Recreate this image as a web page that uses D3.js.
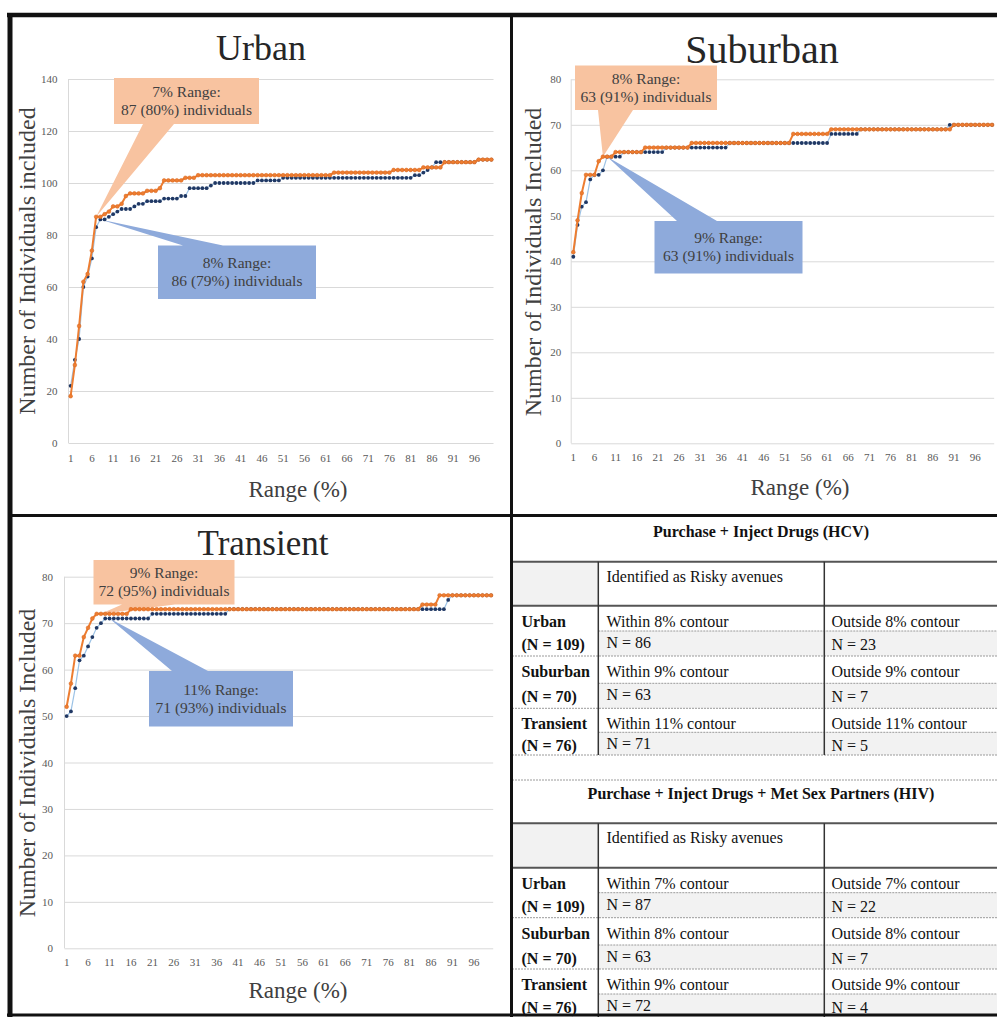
<!DOCTYPE html>
<html>
<head>
<meta charset="utf-8">
<script src="https://cdn.jsdelivr.net/npm/d3@7"></script>
<style>
  body { margin: 0; background: #fff; }
  svg { display: block; font-family: "Liberation Serif", "DejaVu Serif", serif; }
</style>
</head>
<body>
<svg id="fig" width="997" height="1017"></svg>
<script>
// x categories: range (%) 1..100
const categories = d3.range(1, 101);
const xTickLabels = ["1", "6", "11", "16", "21", "26", "31", "36", "41", "46", "51", "56", "61", "66", "71", "76", "81", "86", "91", "96"];

// orange = HIV (purchase + inject + met sex partners), navy = HCV (purchase + inject)
const urbanHiv = [
  18, 30, 45, 62, 65, 74, 87, 87, 88, 89,
  91, 91, 92, 95, 96, 96, 96, 96, 97, 97,
  97, 98, 101, 101, 101, 101, 101, 102, 102, 102,
  103, 103, 103, 103, 103, 103, 103, 103, 103, 103,
  103, 103, 103, 103, 103, 103, 103, 103, 103, 103,
  103, 103, 103, 103, 103, 103, 103, 103, 103, 103,
  103, 103, 104, 104, 104, 104, 104, 104, 104, 104,
  104, 104, 104, 104, 104, 104, 105, 105, 105, 105,
  105, 105, 105, 106, 106, 106, 106, 106, 108, 108,
  108, 108, 108, 108, 108, 108, 109, 109, 109, 109
];
const urbanHcv = [
  22, 32, 40, 60, 64, 71, 83, 86, 86, 87,
  88, 89, 90, 90, 90, 91, 92, 92, 93, 93,
  93, 93, 94, 94, 94, 94, 95, 95, 98, 98,
  98, 98, 98, 99, 100, 100, 100, 100, 100, 100,
  100, 100, 100, 100, 101, 101, 101, 101, 101, 101,
  102, 102, 102, 102, 102, 102, 102, 102, 102, 102,
  102, 102, 102, 102, 102, 102, 102, 102, 102, 102,
  102, 102, 102, 102, 102, 102, 102, 102, 102, 102,
  102, 103, 103, 104, 105, 106, 108, 108, 108, 108,
  108, 108, 108, 108, 108, 108, 109, 109, 109, 109
];
const suburbanHiv = [
  42, 49, 55, 59, 59, 59, 62, 63, 63, 63,
  64, 64, 64, 64, 64, 64, 64, 65, 65, 65,
  65, 65, 65, 65, 65, 65, 65, 65, 66, 66,
  66, 66, 66, 66, 66, 66, 66, 66, 66, 66,
  66, 66, 66, 66, 66, 66, 66, 66, 66, 66,
  66, 66, 68, 68, 68, 68, 68, 68, 68, 68,
  68, 69, 69, 69, 69, 69, 69, 69, 69, 69,
  69, 69, 69, 69, 69, 69, 69, 69, 69, 69,
  69, 69, 69, 69, 69, 69, 69, 69, 69, 69,
  70, 70, 70, 70, 70, 70, 70, 70, 70, 70
];
const suburbanHcv = [
  41, 48, 52, 53, 58, 59, 59, 60, 63, 63,
  63, 63, 64, 64, 64, 64, 64, 64, 64, 64,
  64, 64, 65, 65, 65, 65, 65, 65, 65, 65,
  65, 65, 65, 65, 65, 65, 65, 66, 66, 66,
  66, 66, 66, 66, 66, 66, 66, 66, 66, 66,
  66, 66, 66, 66, 66, 66, 66, 66, 66, 66,
  66, 68, 68, 68, 68, 68, 68, 68, 69, 69,
  69, 69, 69, 69, 69, 69, 69, 69, 69, 69,
  69, 69, 69, 69, 69, 69, 69, 69, 69, 70,
  70, 70, 70, 70, 70, 70, 70, 70, 70, 70
];
const transientHiv = [
  52, 57, 63, 63, 67, 69, 71, 72, 72, 72,
  72, 72, 72, 72, 72, 73, 73, 73, 73, 73,
  73, 73, 73, 73, 73, 73, 73, 73, 73, 73,
  73, 73, 73, 73, 73, 73, 73, 73, 73, 73,
  73, 73, 73, 73, 73, 73, 73, 73, 73, 73,
  73, 73, 73, 73, 73, 73, 73, 73, 73, 73,
  73, 73, 73, 73, 73, 73, 73, 73, 73, 73,
  73, 73, 73, 73, 73, 73, 73, 73, 73, 73,
  73, 73, 73, 74, 74, 74, 74, 76, 76, 76,
  76, 76, 76, 76, 76, 76, 76, 76, 76, 76
];
const transientHcv = [
  50, 51, 56, 62, 63, 65, 67, 69, 70, 71,
  71, 71, 71, 71, 71, 71, 71, 71, 71, 71,
  72, 72, 72, 72, 72, 72, 72, 72, 72, 72,
  72, 72, 72, 72, 72, 72, 72, 72, 73, 73,
  73, 73, 73, 73, 73, 73, 73, 73, 73, 73,
  73, 73, 73, 73, 73, 73, 73, 73, 73, 73,
  73, 73, 73, 73, 73, 73, 73, 73, 73, 73,
  73, 73, 73, 73, 73, 73, 73, 73, 73, 73,
  73, 73, 73, 73, 73, 73, 73, 73, 73, 75,
  76, 76, 76, 76, 76, 76, 76, 76, 76, 76
];

// callouts: [range %, individuals, share %]
const urbanCallouts = [[7, 87, 80], [8, 86, 79]];
const suburbanCallouts = [[8, 63, 91], [9, 63, 91]];
const transientCallouts = [[9, 72, 95], [11, 71, 93]];

// table values
const tableTitles = ["Purchase + Inject Drugs (HCV)", "Purchase + Inject Drugs + Met Sex Partners (HIV)"];
const groupNames = ["Urban", "Suburban", "Transient"];
const groupN = [109, 70, 76];
const hcvContour = [8, 9, 11];
const hcvWithin = [86, 63, 71];
const hcvOutside = [23, 7, 5];
const hivContour = [7, 8, 9];
const hivWithin = [87, 63, 72];
const hivOutside = [22, 7, 4];

const orange = "#ed7d31";
const navy = "#203864";
const peach = "#f8c3a0";
const blue = "#8eaadb";

const svg = d3.select("#fig");

const panels = [
  {
    title: "Urban", titleX: 261, titleY: 60, titleSize: 36,
    yLabel: "Number of Individuals included", yLabelX: 35, yLabelY: 261,
    xLabelX: 298, xLabelY: 497,
    box: { l: 68.5, r: 493.5, t: 79, b: 443 }, yMax: 140, yStep: 20, yPad: 11, xPad: 11,
    hiv: urbanHiv, hcv: urbanHcv, callouts: urbanCallouts,
    hivBox: { x: 114, y: 78, w: 145, h: 46, side: "bottom", b1: 143, b2: 174 },
    hcvBox: { x: 158, y: 245.5, w: 158, h: 53.5, side: "top", b1: 183, b2: 223 }
  },
  {
    title: "Suburban", titleX: 762, titleY: 63, titleSize: 40,
    yLabel: "Number of Individuals Included", yLabelX: 541, yLabelY: 262,
    xLabelX: 800, xLabelY: 495,
    box: { l: 571.2, r: 994.2, t: 79.3, b: 443.3 }, yMax: 80, yStep: 10, yPad: 10, xPad: 10,
    hiv: suburbanHiv, hcv: suburbanHcv, callouts: suburbanCallouts,
    hivBox: { x: 575, y: 65.5, w: 142, h: 44.5, side: "bottom", b1: 598, b2: 633 },
    hcvBox: { x: 654.5, y: 221, w: 148, h: 52.5, side: "top", b1: 677, b2: 717 }
  },
  {
    title: "Transient", titleX: 263, titleY: 555, titleSize: 35,
    yLabel: "Number of Individuals Included", yLabelX: 35, yLabelY: 763,
    xLabelX: 298, xLabelY: 998,
    box: { l: 64.5, r: 493.2, t: 576.7, b: 948.3 }, yMax: 80, yStep: 10, yPad: 11.5, xPad: 10,
    hiv: transientHiv, hcv: transientHcv, callouts: transientCallouts,
    hivBox: { x: 93.5, y: 560, w: 141, h: 44.5, side: "bottom", b1: 122, b2: 175 },
    hcvBox: { x: 149, y: 671, w: 144, h: 55.5, side: "top", b1: 172, b2: 208 }
  }
];

function calloutPath(bx, tip) {
  const x0 = bx.x, x1 = bx.x + bx.w, y0 = bx.y, y1 = bx.y + bx.h;
  if (bx.side === "bottom") {
    return `M${x0},${y0}H${x1}V${y1}H${bx.b2}L${tip[0]},${tip[1]}L${bx.b1},${y1}H${x0}Z`;
  }
  return `M${x0},${y0}H${bx.b1}L${tip[0]},${tip[1]}L${bx.b2},${y0}H${x1}V${y1}H${x0}Z`;
}

panels.forEach(p => {
  const g = svg.append("g");

  const x = d3.scaleBand().domain(categories).range([p.box.l, p.box.r]);
  const y = d3.scaleLinear().domain([0, p.yMax]).range([p.box.b, p.box.t]);
  const cx = c => x(c) + x.bandwidth() / 2;

  // gridlines + y ticks
  const yAxis = g.append("g")
    .attr("transform", `translate(${p.box.l},0)`)
    .call(d3.axisLeft(y)
      .tickValues(d3.range(0, p.yMax + 1, p.yStep))
      .tickSize(-(p.box.r - p.box.l))
      .tickPadding(p.yPad));
  yAxis.select(".domain").remove();
  yAxis.selectAll("line").attr("stroke", "#d9d9d9");
  yAxis.selectAll("text").attr("fill", "#595959").style("font-size", "11px")
    .style("font-family", "Liberation Serif");

  g.append("line")
    .attr("x1", p.box.l).attr("x2", p.box.l)
    .attr("y1", p.box.t).attr("y2", p.box.b)
    .attr("stroke", "#d9d9d9");

  const xAxis = g.append("g")
    .attr("transform", `translate(0,${p.box.b})`)
    .call(d3.axisBottom(x)
      .tickValues(xTickLabels.map(Number))
      .tickSize(0)
      .tickPadding(p.xPad));
  xAxis.select(".domain").remove();
  xAxis.selectAll("text").attr("fill", "#595959").style("font-size", "11px")
    .style("font-family", "Liberation Serif");

  // callouts
  const boxes = [[p.hivBox, peach], [p.hcvBox, blue]];
  p.callouts.forEach((c, i) => {
    const [bx, fill] = boxes[i];
    const tip = [cx(c[0]), y(c[1])];
    g.append("path").attr("d", calloutPath(bx, tip)).attr("fill", fill);
    const t = g.append("text")
      .attr("x", bx.x + bx.w / 2)
      .attr("text-anchor", "middle")
      .attr("fill", "#404040")
      .style("font-size", "15.5px");
    t.append("tspan").attr("x", bx.x + bx.w / 2).attr("y", bx.y + bx.h / 2 - 4).text(`${c[0]}% Range:`);
    t.append("tspan").attr("x", bx.x + bx.w / 2).attr("y", bx.y + bx.h / 2 + 14).text(`${c[1]} (${c[2]}%) individuals`);
  });

  // series
  const line = d3.line().x((d, i) => cx(categories[i])).y(d => y(d));

  g.append("path").datum(p.hcv)
    .attr("fill", "none").attr("stroke", "#9dc3e6").attr("stroke-width", 1.2)
    .attr("d", line);
  g.append("g").selectAll("circle").data(p.hcv).join("circle")
    .attr("cx", (d, i) => cx(categories[i])).attr("cy", d => y(d))
    .attr("r", 1.9).attr("fill", navy);

  g.append("path").datum(p.hiv)
    .attr("fill", "none").attr("stroke", orange).attr("stroke-width", 2)
    .attr("d", line);
  g.append("g").selectAll("circle").data(p.hiv).join("circle")
    .attr("cx", (d, i) => cx(categories[i])).attr("cy", d => y(d))
    .attr("r", 1.9).attr("fill", orange).attr("stroke", "#d9661f").attr("stroke-width", 0.5);

  // titles and axis labels
  g.append("text")
    .attr("x", p.titleX).attr("y", p.titleY)
    .attr("text-anchor", "middle").attr("fill", "#262626")
    .style("font-size", p.titleSize + "px")
    .text(p.title);

  g.append("text")
    .attr("transform", `translate(${p.yLabelX},${p.yLabelY}) rotate(-90)`)
    .attr("text-anchor", "middle").attr("fill", "#404040")
    .style("font-size", "24px")
    .text(p.yLabel);

  g.append("text")
    .attr("x", p.xLabelX).attr("y", p.xLabelY)
    .attr("text-anchor", "middle").attr("fill", "#404040")
    .style("font-size", "23px")
    .text("Range (%)");
});

// ---- table (bottom right) ----
const tLeft = 512, tRight = 997, col1 = 598.3, col2 = 824.3;
const colX = [521.5, 606.5, 831.5];

const blocks = [
  { title: tableTitles[0], titleY: 537, top: 561.7, head: 605.7,
    rows: [605.7, 631, 656, 683.3, 708.3, 732.3, 755],
    contour: hcvContour, within: hcvWithin, outside: hcvOutside },
  { title: tableTitles[1], titleY: 798.5, top: 823.3, head: 867.7,
    rows: [867.7, 892.7, 917.7, 945, 969, 994, 1019],
    contour: hivContour, within: hivWithin, outside: hivOutside }
];

const tg = svg.append("g").style("font-size", "16px").attr("fill", "#111");

blocks.forEach(b => {
  tg.append("text")
    .attr("x", 761).attr("y", b.titleY)
    .attr("text-anchor", "middle").attr("font-weight", "bold")
    .text(b.title);

  tg.append("rect")
    .attr("x", tLeft).attr("y", b.top).attr("width", col1 - tLeft).attr("height", b.head - b.top)
    .attr("fill", "#f2f2f2");
  tg.append("text").attr("x", colX[1]).attr("y", b.top + 20).text("Identified as Risky avenues");

  groupNames.forEach((name, i) => {
    const top = b.rows[2 * i], mid = b.rows[2 * i + 1], bot = b.rows[2 * i + 2];
    tg.append("rect")
      .attr("x", col1).attr("y", mid).attr("width", tRight - col1).attr("height", bot - mid)
      .attr("fill", "#f2f2f2");
    tg.append("line")
      .attr("x1", col1).attr("x2", tRight).attr("y1", mid).attr("y2", mid)
      .attr("stroke", "#9a9a9a").attr("stroke-dasharray", "2,1");
    tg.append("line")
      .attr("x1", tLeft).attr("x2", tRight).attr("y1", bot).attr("y2", bot)
      .attr("stroke", "#9a9a9a").attr("stroke-dasharray", "2,1");

    tg.append("text").attr("x", colX[0]).attr("y", top + 21).attr("font-weight", "bold").text(name);
    tg.append("text").attr("x", colX[0]).attr("y", mid + 19).attr("font-weight", "bold").text(`(N = ${groupN[i]})`);
    tg.append("text").attr("x", colX[1]).attr("y", top + 21).text(`Within ${b.contour[i]}% contour`);
    tg.append("text").attr("x", colX[1]).attr("y", mid + 17).text(`N = ${b.within[i]}`);
    tg.append("text").attr("x", colX[2]).attr("y", top + 21).text(`Outside ${b.contour[i]}% contour`);
    tg.append("text").attr("x", colX[2]).attr("y", mid + 19).text(`N = ${b.outside[i]}`);
  });

  [b.top, b.head].forEach(yy => {
    tg.append("line")
      .attr("x1", tLeft).attr("x2", tRight).attr("y1", yy).attr("y2", yy)
      .attr("stroke", "#555").attr("stroke-width", 2);
  });
  [col1, col2].forEach(xx => {
    tg.append("line")
      .attr("x1", xx).attr("x2", xx).attr("y1", b.top).attr("y2", b.rows[6])
      .attr("stroke", "#333").attr("stroke-width", 1.5);
  });
});

tg.append("line")
  .attr("x1", tLeft).attr("x2", tRight).attr("y1", 780).attr("y2", 780)
  .attr("stroke", "#9a9a9a").attr("stroke-dasharray", "2,1");

// ---- outer frame ----
const frame = svg.append("g").attr("stroke", "#111");
frame.append("line").attr("x1", 7).attr("x2", 997).attr("y1", 15).attr("y2", 15).attr("stroke-width", 4.5);
frame.append("line").attr("x1", 10).attr("x2", 10).attr("y1", 13).attr("y2", 1017).attr("stroke-width", 5);
frame.append("line").attr("x1", 7).attr("x2", 997).attr("y1", 1015).attr("y2", 1015).attr("stroke-width", 3);
frame.append("line").attr("x1", 511.5).attr("x2", 511.5).attr("y1", 15).attr("y2", 1017).attr("stroke-width", 3);
frame.append("line").attr("x1", 10).attr("x2", 997).attr("y1", 515.5).attr("y2", 515.5).attr("stroke-width", 3);
</script>
</body>
</html>
